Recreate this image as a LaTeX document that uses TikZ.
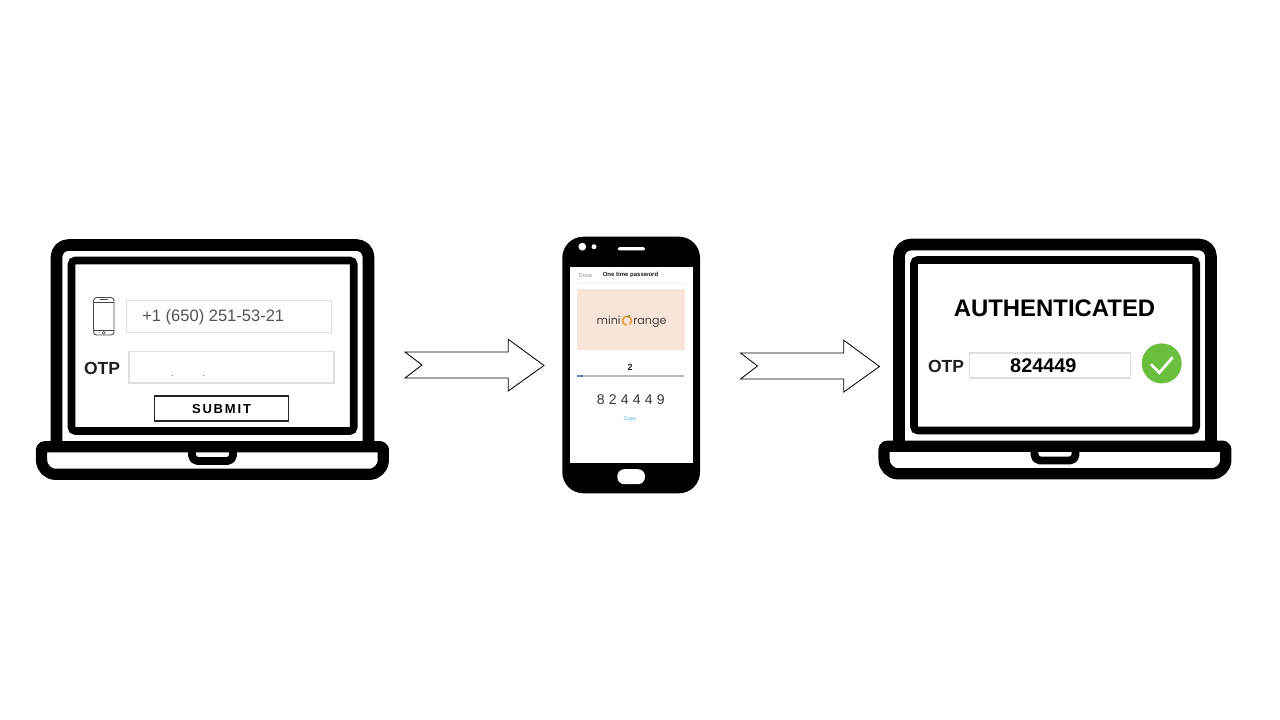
\documentclass[tikz,border=0pt]{standalone}
\usepackage{fontspec}
\setmainfont{Liberation Sans}
\newfontfamily\logofont{Poppins}
\definecolor{peach}{HTML}{F9E5D8}
\definecolor{fieldgrey}{HTML}{DEDEDE}
\definecolor{okgreen}{HTML}{6ABF3F}
\definecolor{logoorange}{HTML}{E8973A}
\definecolor{copyblue}{HTML}{5AAEE0}
\tikzset{
    bodyline/.style={draw=black, line width=8.25pt, line join=round},
    frameline/.style={draw=black, line width=5.4pt, rounded corners=2.7pt},
    fieldbox/.style={draw=fieldgrey, line width=1.2pt},
    flowarrow/.style={draw=black, fill=white, line width=0.6pt, line join=miter},
    iconline/.style={draw=black!70, line width=0.65pt},
    label/.style={inner sep=0pt, text=black!88},
    logotext/.style={inner sep=0pt, text=black!74, font=\fontsize{7.9}{10}\logofont},
}
\begin{document}
\begin{tikzpicture}[x=0.025cm, y=-0.025cm]
    \useasboundingbox (0,0) rectangle (1280,720);

    % Laptops
    \foreach \x/\y in {0/0, 842.5/-0.5}{
        \begin{scope}[shift={(\x,\y)}]
            \draw [bodyline, rounded corners=8.5pt] (56.5,444) -- (56.5,245) -- (368.5,245) -- (368.5,444);
            \draw [frameline] (71.5,260.5) rectangle (353.7,431);
            \draw [bodyline, line width=8pt, rounded corners=2pt] (212,446.8) -- (41.6,446.8)
                [rounded corners=10pt] -- (41.6,474.3) -- (383.3,474.3)
                [rounded corners=2pt] -- (383.3,446.8) -- cycle;
            \draw [bodyline, line width=5.6pt, rounded corners=4pt] (192,448) -- (192,461) -- (233,461) -- (233,448);
        \end{scope}
    }

    % Login form
    \draw [iconline, rounded corners=2.2pt] (93.5,297.5) rectangle (114,335);
    \draw [iconline, line width=0.45pt] (93.5,302) -- (114,302);
    \draw [iconline, line width=0.45pt] (93.5,330.5) -- (114,330.5);
    \draw [iconline, line width=0.8pt] (100,299.8) -- (107.5,299.8);
    \draw [iconline, line width=0.45pt] (103.7,332.8) circle (1.5);
    \draw [fieldbox] (126.5,300.5) rectangle (331.5,332.5);
    \node [label, text=black!68, font=\fontsize{11.75}{14}\selectfont, anchor=west] (phonenum) at (142,317) {+1 (650) 251-53-21};
    \node [label, font=\fontsize{12.45}{15}\selectfont\bfseries] (otpleft) at (102,368) {OTP};
    \draw [fieldbox] (129,351.5) rectangle (334,383);
    \fill [black!45] (171.5,374.6) rectangle (172.7,375.4);
    \fill [black!45] (202.6,374.6) rectangle (203.8,375.4);
    \draw [black!85, line width=1pt] (154.3,396) rectangle (288.3,420.8);
    \node [label, text=black, font=\fontsize{9.25}{11}\selectfont\bfseries\addfontfeature{LetterSpace=14}] (submit) at (221.5,408.6) {SUBMIT};

    % Arrows
    \foreach \x/\y in {0/0, 335.5/1}{
        \begin{scope}[shift={(\x,\y)}]
            \draw [flowarrow] (405,352) -- (508.3,352) -- (508.3,339.3) -- (544,365.5)
                -- (508.3,391) -- (508.3,378) -- (405,378) -- (422,365) -- cycle;
        \end{scope}
    }

    % Phone
    \fill [black, rounded corners=15pt] (562.3,236.7) rectangle (700,493.3);
    \fill [white] (570,266.7) rectangle (692.7,463.3);
    \fill [white] (582.3,246.7) circle (3.9);
    \fill [white] (594,246.7) circle (2.5);
    \fill [white, rounded corners=1pt] (617.7,247.2) rectangle (645,250.4);
    \fill [white, rounded corners=5pt] (617.3,469.2) rectangle (645,484.2);

    % Phone screen
    \node [label, text=black!45, font=\fontsize{3.9}{5}\selectfont] (donelabel) at (585.5,275.2) {Done};
    \node [label, font=\fontsize{4.27}{5}\selectfont\bfseries] (otptitle) at (630.5,275.2) {One time password};
    \draw [black!6, line width=0.5pt] (577,283) -- (685,283);
    \fill [peach] (577,288.7) rectangle (685,350);
    \node [logotext, anchor=base east] (logomini) at (621,325) {mini};
    \draw [logoorange, line width=1.1pt] (627,320.8) ++(55:4.5) arc (55:-265:4.5);
    \draw [okgreen!70!black, line width=0.7pt] (627.5,316.8) -- (630,315.3);
    \node [logotext, anchor=base west] (logorange) at (633,325) {range};
    \node [label, font=\fontsize{6.4}{8}\selectfont\bfseries] (countdown) at (630.2,367) {2};
    \draw [black!28, line width=1.5pt] (577,375.8) -- (684,375.8);
    \draw [copyblue!80!black, line width=1.5pt] (577,375.8) -- (583,375.8);
    \node [label, text=black!78, font=\fontsize{10}{12}\selectfont\addfontfeature{LetterSpace=30}] (otpcode) at (630.8,399.5) {824449};
    \node [label, text=copyblue, font=\fontsize{3.9}{5}\selectfont] (copylabel) at (630,419) {Copy};

    % Authenticated screen
    \node [label, text=black, font=\fontsize{17}{20}\selectfont\bfseries] (authtext) at (1054.5,308.2) {AUTHENTICATED};
    \node [label, font=\fontsize{12.45}{15}\selectfont\bfseries] (otpright) at (946,366) {OTP};
    \draw [fieldbox] (969.5,352.8) rectangle (1130.5,378);
    \node [label, text=black, font=\fontsize{14.1}{17}\selectfont\bfseries] (otpvalue) at (1043.3,365.5) {824449};
    \fill [okgreen] (1161.7,363.4) circle (20);
    \draw [white, line width=1.9pt] (1151,364.3) -- (1159.3,372.7) -- (1172.7,357.3);
\end{tikzpicture}
\end{document}
